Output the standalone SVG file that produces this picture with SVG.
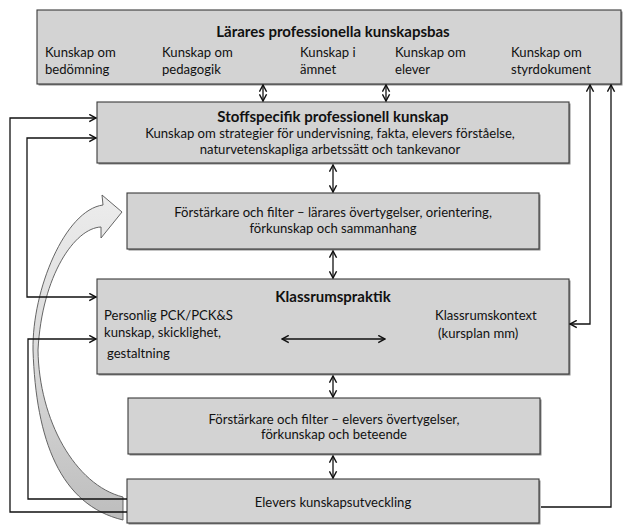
<svg xmlns="http://www.w3.org/2000/svg" width="623" height="526" viewBox="0 0 623 526">
<style>
  .box { fill: #d3d3d3; stroke: #3a3a3a; stroke-width: 1.1; }
  .shadow { fill: #8a8a8a; }
  text { font-family: Lato, "Liberation Sans", "DejaVu Sans", sans-serif; font-size: 13.1px; fill: #111; }
  .title { font-weight: bold; font-size: 15px; }
  .c { text-anchor: middle; }
  .conn { fill: none; stroke: #111; stroke-width: 1.3; }
</style>
<defs>
  <marker id="ah" viewBox="0 0 10 10" refX="9" refY="5" markerWidth="9" markerHeight="9" orient="auto-start-reverse" markerUnits="userSpaceOnUse">
    <path d="M1.5,1 L9,5 L1.5,9" fill="none" stroke="#111" stroke-width="1.6"/>
  </marker>
  <linearGradient id="cg" x1="0" y1="0" x2="0" y2="1">
    <stop offset="0" stop-color="#ececec"/>
    <stop offset="0.5" stop-color="#dadada"/>
    <stop offset="1" stop-color="#bdbdbd"/>
  </linearGradient>
</defs>
<rect width="623" height="526" fill="#fff"/>

<g id="curved-arrow">
  <path d="M 123 520 C 60 505 36 440 33 350 C 32 290 65 210 103 205 L 102 195 L 122 212 L 101 238 L 101 227 C 75 228 42 275 38 350 C 39 420 75 485 123 497 Z" fill="url(#cg)" stroke="#555" stroke-width="0.9"/>
</g>

<g id="lararesKunskapsbas">
  <rect class="shadow" x="38.5" y="11.5" width="584" height="74"/>
  <rect class="box" x="37" y="10" width="584" height="74"/>
  <text class="title c" x="333" y="37">Lärares professionella kunskapsbas</text>
  <text x="45" y="57">Kunskap om</text><text x="45" y="74">bedömning</text>
  <text x="162" y="57">Kunskap om</text><text x="162" y="74">pedagogik</text>
  <text x="300" y="57">Kunskap i</text><text x="300" y="74">ämnet</text>
  <text x="395" y="57">Kunskap om</text><text x="395" y="74">elever</text>
  <text x="511" y="57">Kunskap om</text><text x="511" y="74">styrdokument</text>
</g>

<g id="stoffspecifik">
  <rect class="shadow" x="98.5" y="103.5" width="472" height="61"/>
  <rect class="box" x="97" y="102" width="472" height="61"/>
  <text class="title c" x="333" y="122">Stoffspecifik professionell kunskap</text>
  <text class="c" x="330" y="138">Kunskap om strategier för undervisning, fakta, elevers förståelse,</text>
  <text class="c" x="330" y="154">naturvetenskapliga arbetssätt och tankevanor</text>
</g>

<g id="forstarkareLarare">
  <rect class="shadow" x="128.5" y="194.5" width="412" height="56"/>
  <rect class="box" x="127" y="193" width="412" height="56"/>
  <text class="c" x="333" y="217">Förstärkare och filter – lärares övertygelser, orientering,</text>
  <text class="c" x="333" y="233">förkunskap och sammanhang</text>
</g>

<g id="klassrumspraktik">
  <rect class="shadow" x="98.5" y="280.5" width="472" height="95"/>
  <rect class="box" x="97" y="279" width="472" height="95"/>
  <text class="title c" x="333" y="302">Klassrumspraktik</text>
  <text x="104" y="320">Personlig PCK/PCK&amp;S</text>
  <text x="104" y="337">kunskap, skicklighet,</text>
  <text x="107" y="358">gestaltning</text>
  <text x="435" y="320">Klassrumskontext</text>
  <text x="438" y="338">(kursplan mm)</text>
</g>

<g id="forstarkareElever">
  <rect class="shadow" x="129.5" y="399.5" width="412" height="56"/>
  <rect class="box" x="128" y="398" width="412" height="56"/>
  <text class="c" x="334" y="424">Förstärkare och filter – elevers övertygelser,</text>
  <text class="c" x="334" y="439">förkunskap och beteende</text>
</g>

<g id="eleversKunskapsutveckling">
  <rect class="shadow" x="128.5" y="480.5" width="412" height="44"/>
  <rect class="box" x="127" y="479" width="412" height="44"/>
  <text class="c" x="333" y="507">Elevers kunskapsutveckling</text>
</g>

<g id="connectors">
  <path class="conn" d="M263 85 V101" marker-start="url(#ah)" marker-end="url(#ah)"/>
  <path class="conn" d="M386 85 V101" marker-start="url(#ah)" marker-end="url(#ah)"/>
  <path class="conn" d="M333 165 V192" marker-start="url(#ah)" marker-end="url(#ah)"/>
  <path class="conn" d="M333 251 V278" marker-start="url(#ah)" marker-end="url(#ah)"/>
  <path class="conn" d="M333 376 V397" marker-start="url(#ah)" marker-end="url(#ah)"/>
  <path class="conn" d="M333 456 V478" marker-start="url(#ah)" marker-end="url(#ah)"/>
  <path class="conn" d="M282 339 H385" marker-start="url(#ah)" marker-end="url(#ah)"/>
  <path class="conn" d="M127 512 H10 V118 H96" marker-end="url(#ah)"/>
  <path class="conn" d="M127 499 H28 V339 H96" marker-end="url(#ah)"/>
  <path class="conn" d="M96 138 H27 V297 H96" marker-start="url(#ah)" marker-end="url(#ah)"/>
  <path class="conn" d="M570 324 H590 V85" marker-start="url(#ah)" marker-end="url(#ah)"/>
  <path class="conn" d="M541 507 H611 V85" marker-end="url(#ah)"/>
</g>
</svg>
